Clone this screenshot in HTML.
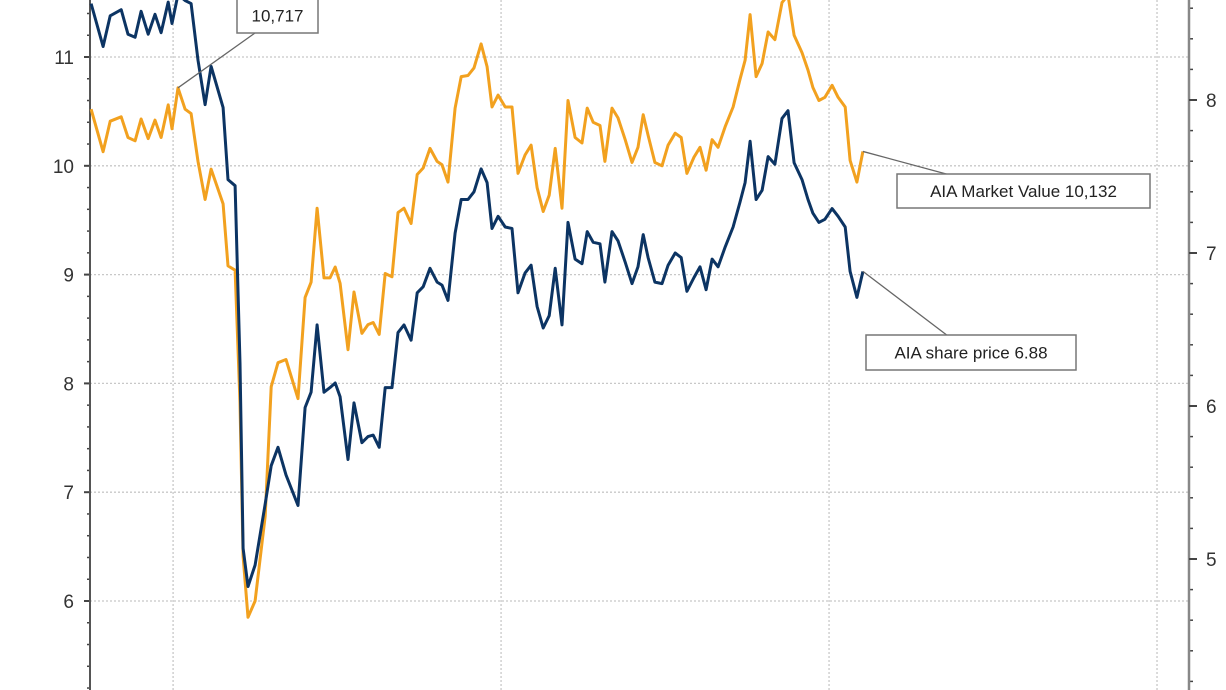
<!DOCTYPE html>
<html><head><meta charset="utf-8">
<style>
html,body{margin:0;padding:0;background:#fff;width:1226px;height:690px;overflow:hidden;}
svg{display:block;font-family:"Liberation Sans",Arial,sans-serif;}
</style></head>
<body>
<svg id="chart" width="1226" height="690" viewBox="0 0 1226 690" xmlns="http://www.w3.org/2000/svg">
<g id="grid"></g>
<g id="axes"></g>
<g id="series"></g>
<g id="notes"></g>
</svg>
<script>
// months since Jan 2020
const months = [-3.00,-2.56,-2.30,-1.90,-1.65,-1.39,-1.17,-0.91,-0.66,-0.44,
-0.18,-0.04,0.18,0.44,0.66,0.91,1.17,1.39,1.83,2.01,
2.27,2.45,2.56,2.74,3.00,3.37,3.59,3.84,4.13,4.57,
4.83,5.05,5.27,5.52,5.74,5.93,6.11,6.40,6.62,6.91,
7.13,7.32,7.54,7.76,8.01,8.23,8.45,8.71,8.93,9.15,
9.40,9.66,9.84,10.06,10.32,10.54,10.79,11.01,11.27,11.49,
11.67,11.89,12.15,12.40,12.62,12.88,13.10,13.32,13.54,13.76,
13.98,14.23,14.45,14.71,14.96,15.15,15.37,15.62,15.80,16.06,
16.28,16.54,16.79,17.01,17.20,17.38,17.63,17.89,18.11,18.37,
18.59,18.80,19.06,19.28,19.50,19.72,19.94,20.20,20.49,20.74,
20.93,21.11,21.33,21.55,21.77,22.02,22.28,22.50,22.72,23.01,
23.23,23.41,23.63,23.85,24.11,24.33,24.59,24.77,25.02,25.24];
// AIA market value (thousands), left axis
const marketValue = [10.52,10.13,10.41,10.45,10.26,10.23,10.43,10.25,10.42,10.26,
10.56,10.34,10.717,10.52,10.48,10.04,9.69,9.97,9.65,9.08,
9.04,7.82,6.41,5.85,6.00,6.78,7.97,8.19,8.22,7.86,
8.79,8.93,9.61,8.97,8.97,9.07,8.92,8.31,8.84,8.46,
8.54,8.56,8.45,9.01,8.98,9.57,9.61,9.47,9.92,9.98,
10.16,10.04,10.01,9.85,10.53,10.82,10.83,10.90,11.12,10.91,
10.54,10.65,10.54,10.54,9.93,10.10,10.19,9.80,9.58,9.73,
10.16,9.61,10.60,10.26,10.21,10.53,10.40,10.37,10.04,10.53,
10.44,10.24,10.03,10.17,10.47,10.28,10.03,10.00,10.19,10.30,
10.26,9.93,10.08,10.17,9.96,10.24,10.17,10.36,10.54,10.79,
10.97,11.39,10.82,10.94,11.23,11.16,11.50,11.57,11.20,11.04,
10.88,10.72,10.60,10.63,10.74,10.63,10.54,10.05,9.85,10.132];
// AIA share price, right axis
const sharePrice = [8.63,8.35,8.55,8.59,8.43,8.41,8.58,8.43,8.56,8.44,
8.64,8.50,8.69,8.65,8.63,8.26,7.97,8.22,7.95,7.48,
7.44,6.28,5.07,4.82,4.96,5.36,5.61,5.73,5.55,5.35,
5.99,6.09,6.53,6.09,6.12,6.15,6.06,5.65,6.02,5.76,
5.80,5.81,5.73,6.12,6.12,6.48,6.53,6.43,6.74,6.78,
6.90,6.81,6.79,6.69,7.13,7.35,7.35,7.40,7.55,7.46,
7.16,7.24,7.17,7.16,6.74,6.87,6.92,6.65,6.51,6.59,
6.90,6.53,7.20,6.96,6.93,7.14,7.07,7.06,6.81,7.14,
7.08,6.94,6.80,6.91,7.12,6.97,6.81,6.80,6.92,7.00,
6.97,6.75,6.84,6.91,6.76,6.96,6.91,7.04,7.17,7.33,
7.46,7.73,7.35,7.41,7.63,7.58,7.88,7.93,7.59,7.48,
7.35,7.26,7.20,7.22,7.29,7.24,7.17,6.88,6.71,6.88];
const leftTicks = [6,7,8,9,10,11];
const rightTicks = [5,6,7,8];
const xGridMonths = [0,12,24,36];

const NS = "http://www.w3.org/2000/svg";
const PL = 90, PR = 1189;
const X = m => PL + (m - (-3.04)) * (PR - PL) / (37.17 - (-3.04));
const YL = v => 57 + (11 - v) * 108.8;
const YR = v => 100 + (8 - v) * 153;
function mk(tag, attrs, parent){ const e=document.createElementNS(NS,tag); for(const k in attrs) e.setAttribute(k,attrs[k]); parent.appendChild(e); return e; }
const grid=document.getElementById('grid'), axes=document.getElementById('axes'), series=document.getElementById('series'), notes=document.getElementById('notes');

leftTicks.forEach(v=>{
  const g=mk('line',{x1:PL,x2:PR,y1:YL(v),y2:YL(v),stroke:'#c8c8c8','stroke-width':1.3,'stroke-dasharray':'2,2'},grid);
  
  
  const t=mk('text',{x:74,y:YL(v)+7,'text-anchor':'end','font-size':19,fill:'#333'},axes);
  
  
  t.textContent=v;
  mk('line',{x1:84,x2:91,y1:YL(v),y2:YL(v),stroke:'#444','stroke-width':2},axes);
});
xGridMonths.forEach(m=>{
  const g=mk('line',{x1:X(m),x2:X(m),y1:0,y2:690,stroke:'#c8c8c8','stroke-width':1.3,'stroke-dasharray':'2,2'},grid);
  
  
});
for(let v=4.8; v<=11.8; v+=0.2){ mk('line',{x1:87,x2:90,y1:YL(v),y2:YL(v),stroke:'#444','stroke-width':1.5},axes); }
const la=mk('line',{x1:PL,x2:PL,y1:0,y2:690,stroke:'#555','stroke-width':2},axes);


for(let v=4.2; v<=8.8; v+=0.2){ mk('line',{x1:PR,x2:PR+4,y1:YR(v),y2:YR(v),stroke:'#444','stroke-width':1.5},axes); }
const ra=mk('line',{x1:PR,x2:PR,y1:0,y2:690,stroke:'#888','stroke-width':2.5},axes);


rightTicks.forEach(v=>{
  mk('line',{x1:PR,x2:PR+8,y1:YR(v),y2:YR(v),stroke:'#444','stroke-width':2},axes);
  const t=mk('text',{x:1206,y:YR(v)+7,'font-size':19,fill:'#333'},axes);
  
  
  t.textContent=v;
});

const po=mk('polyline',{points:months.map((m,i)=>X(m).toFixed(1)+','+YL(marketValue[i]).toFixed(1)).join(' '),fill:'none',stroke:'#f2a11f','stroke-width':3,'stroke-linejoin':'round'},series);


const pb=mk('polyline',{points:months.map((m,i)=>X(m).toFixed(1)+','+YR(sharePrice[i]).toFixed(1)).join(' '),fill:'none',stroke:'#0c3463','stroke-width':3,'stroke-linejoin':'round'},series);



function note(name, px, py, lx, ly, bx, by, bw, bh, text){
  const g=mk('g',{},notes);
  
  
  mk('line',{x1:px,y1:py,x2:lx,y2:ly,stroke:'#666','stroke-width':1.3},g);
  mk('rect',{x:bx,y:by,width:bw,height:bh,fill:'#fff',stroke:'#777','stroke-width':1.5},g);
  const t=mk('text',{x:bx+bw/2,y:by+bh/2+6,'text-anchor':'middle','font-size':17,fill:'#222'},g);
  t.textContent=text;
}
const pk=12, last=months.length-1;
note('peak-value-label', X(months[pk]), YL(marketValue[pk]), 255, 33, 237, -2, 81, 35, '10,717');
note('market-value-label', X(months[last]), YL(marketValue[last]), 950, 175, 897, 174, 253, 34, 'AIA Market Value 10,132');
note('share-price-label', X(months[last]), YR(sharePrice[last]), 948, 336, 866, 335, 210, 35, 'AIA share price 6.88');
</script>
</body></html>
